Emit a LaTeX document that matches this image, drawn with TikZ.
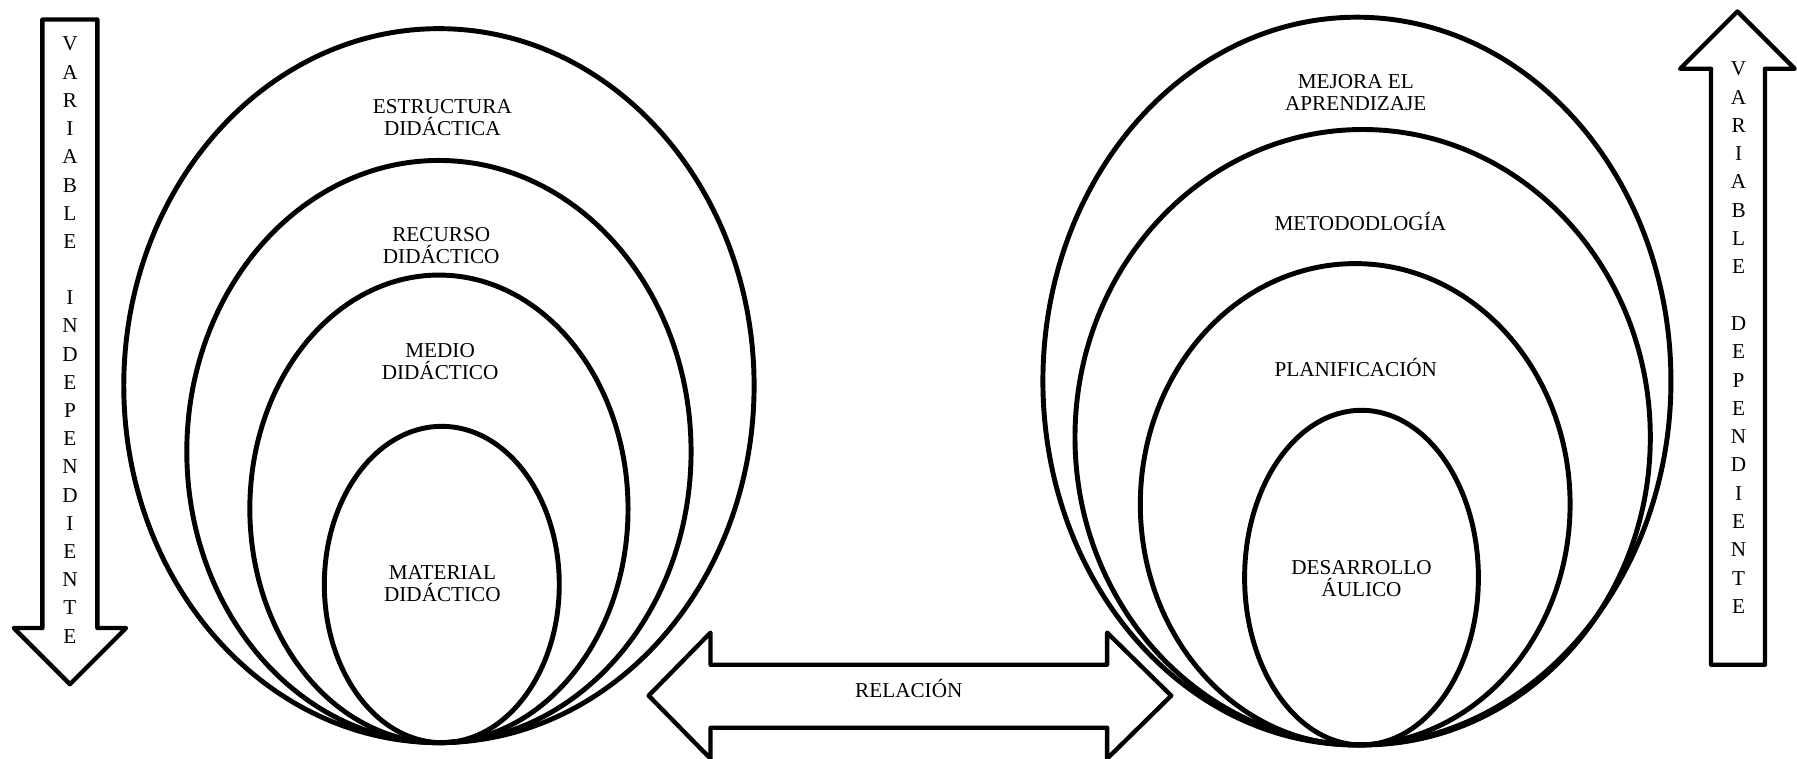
\documentclass[tikz,border=0pt]{standalone}
\usepackage{fontspec}
\setmainfont{Liberation Serif}
\usetikzlibrary{shapes.geometric}
\begin{document}
\begin{tikzpicture}[x=1pt,y=-1pt,
  ring/.style={draw, ellipse, line width=4.3pt, inner sep=0pt, outer sep=0pt},
  lbl/.style={align=center, font=\fontsize{18.5}{19.5}\selectfont, inner sep=0pt},
  vl/.style={font=\fontsize{18.5}{19.5}\selectfont, inner sep=0pt},
  bigarrow/.style={draw, line width=3.8pt, line join=round}]
\useasboundingbox (0,0) rectangle (1568,662);

% left nest of ellipses
\node[ring, minimum width=550pt, minimum height=623pt] (e1) at (383,336.5) {};
\node[ring, minimum width=440pt, minimum height=508pt] (e2) at (383,394) {};
\node[ring, minimum width=330pt, minimum height=408pt] (e3) at (383,444) {};
\node[ring, minimum width=205pt, minimum height=276pt] (e4) at (385.5,510) {};

% right nest of ellipses
\node[ring, minimum width=548pt, minimum height=635pt] (f1) at (1184,332.5) {};
\node[ring, minimum width=502pt, minimum height=537pt] (f2) at (1189,381.5) {};
\node[ring, minimum width=375pt, minimum height=420pt] (f3) at (1182.5,440) {};
\node[ring, minimum width=204pt, minimum height=292pt] (f4) at (1188,504) {};

% labels
\node[lbl] (t1) at (386,102.5) {ESTRUCTURA\\DIDÁCTICA};
\node[lbl] (t2) at (385,214.5) {RECURSO\\DIDÁCTICO};
\node[lbl] (t3) at (384,315.5) {MEDIO\\DIDÁCTICO};
\node[lbl] (t4) at (386,509) {MATERIAL\\DIDÁCTICO};
\node[lbl] (u1) at (1183,80.5) {MEJORA EL\\APRENDIZAJE};
\node[lbl] (u2) at (1187,193) {METODODLOGÍA};
\node[lbl] (u3) at (1183,321) {PLANIFICACIÓN};
\node[lbl] (u4) at (1188,505) {DESARROLLO\\ÁULICO};

% left down arrow
\draw[bigarrow] (37,17) -- (85,17) -- (85,548) -- (110,548) -- (61,597) -- (12,548) -- (37,548) -- cycle;
\foreach \l [count=\i from 0] in {V,A,R,I,A,B,L,E,{},I,N,D,E,P,E,N,D,I,E,N,T,E}
  \node[vl] (li\i) at (61,{38.5+24.6*\i}) {\l};

% right up arrow
\draw[bigarrow] (1493,580) -- (1540,580) -- (1540,60) -- (1566,60) -- (1516,10) -- (1466,60) -- (1493,60) -- cycle;
\foreach \l [count=\i from 0] in {V,A,R,I,A,B,L,E,{},D,E,P,E,N,D,I,E,N,T,E}
  \node[vl] (ri\i) at (1517,{60+24.7*\i}) {\l};

% double arrow
\draw[bigarrow] (566,607) -- (620,552) -- (620,580) -- (966,580) -- (966,552) -- (1022,607) -- (966,662) -- (966,635) -- (620,635) -- (620,662) -- cycle;
\node[lbl] (rel) at (793,601) {RELACIÓN};
\end{tikzpicture}
\end{document}
